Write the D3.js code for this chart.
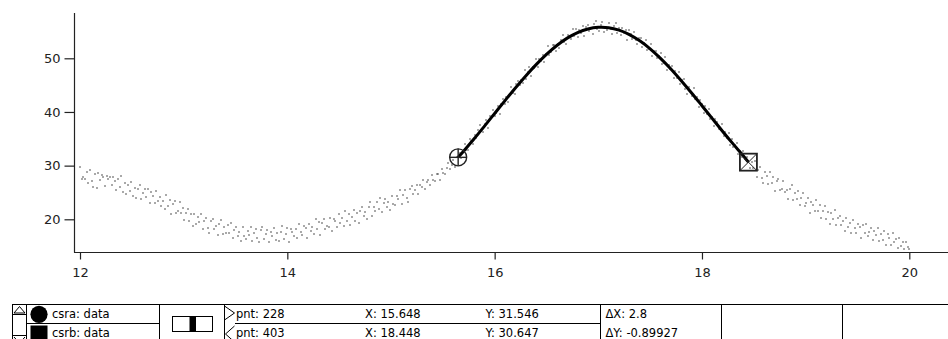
<!DOCTYPE html>
<html><head><meta charset="utf-8">
<script src="https://cdn.jsdelivr.net/npm/d3@7"></script>
<style>
body{margin:0;background:#fff;}
svg{display:block;font-family:"DejaVu Sans",sans-serif;}
</style>
</head><body>
<svg id="chart" width="948" height="339"></svg>
<script>
// ---- data (wave "data": x scaling start/step, y values) ----
const xStart = 12;
const xStep = 0.016;
const yValues = [
29.8,27.5,27.9,27.6,28.9,26.8,29.2,27.1,26.0,28.4,
25.9,28.6,27.3,28.3,27.9,26.2,28.1,27.6,27.9,26.3,
27.8,27.2,25.4,27.5,26.1,28.1,25.0,26.8,24.7,26.3,
25.2,26.9,24.3,25.9,24.0,25.6,26.4,23.8,24.9,25.7,
24.1,25.7,23.0,25.0,24.4,23.1,25.2,23.5,24.1,22.4,
23.5,22.0,24.5,22.4,23.6,20.9,22.8,23.4,21.2,21.5,
23.2,21.1,22.1,19.8,21.1,22.0,19.7,21.0,18.8,20.9,
19.1,20.5,19.5,21.0,18.1,19.6,20.2,18.4,17.5,19.7,
20.1,18.1,18.7,17.1,19.1,19.9,17.2,18.5,17.5,19.0,
17.5,19.4,16.6,18.0,18.5,16.8,17.7,16.0,18.5,16.8,
16.4,17.9,17.1,18.6,15.9,17.5,18.2,16.5,15.7,18.0,
18.5,16.3,17.2,18.0,15.8,17.6,16.9,18.4,16.2,17.5,
16.0,17.6,18.7,16.4,17.3,18.4,15.8,18.1,17.7,16.8,
18.2,16.5,19.1,17.6,17.0,18.7,18.3,16.6,19.1,17.8,
18.5,17.3,20.0,18.1,19.5,17.1,19.3,20.1,18.2,18.7,
18.5,20.3,17.9,20.1,19.6,18.6,20.9,19.4,20.3,18.8,
21.5,19.7,21.0,19.0,20.5,21.7,19.7,21.2,19.3,21.6,
22.3,20.6,21.4,20.0,22.2,23.2,20.7,22.3,21.5,23.2,
21.9,24.0,21.4,23.0,23.7,22.2,23.2,21.8,24.4,22.9,
22.7,24.3,23.7,25.4,22.8,24.6,25.5,23.9,23.3,25.7,
26.2,24.7,25.5,26.3,24.8,26.4,26.0,27.3,25.7,26.9,
27.3,26.3,28.2,27.4,27.1,28.5,28.4,27.4,29.3,28.6,
28.4,29.6,30.4,29.4,30.1,31.1,29.8,31.6,31.546,
32.3,31.4,32.8,34.1,33.0,33.0,34.9,34.5,34.0,35.7,
35.1,36.7,37.6,36.5,36.2,37.7,38.5,37.1,39.2,38.8,
40.3,39.2,39.9,41.1,39.6,41.5,42.5,41.4,42.8,41.9,
43.3,44.7,43.5,43.3,45.2,45.8,45.1,45.9,45.4,47.9,
46.2,47.4,48.4,46.7,48.3,48.1,49.8,48.3,49.9,49.5,
50.7,49.4,50.8,52.2,50.7,51.2,52.5,52.4,51.4,52.7,
52.0,53.4,54.3,53.0,52.6,54.4,54.2,53.6,55.5,54.2,
55.5,54.0,55.2,54.8,56.1,54.1,55.8,56.2,55.0,55.7,
54.6,56.3,56.9,55.5,55.1,56.2,56.7,54.9,55.9,55.3,
56.5,55.4,54.5,56.0,56.5,54.7,55.6,54.3,55.6,54.7,
55.2,53.4,55.3,54.5,53.6,54.9,53.4,52.6,53.7,53.8,
52.1,52.8,53.5,51.6,51.7,52.6,50.4,51.4,51.4,50.1,
50.5,51.0,49.0,49.1,50.2,47.8,48.8,48.0,48.6,46.3,
47.7,46.3,47.5,45.2,45.9,46.2,44.3,43.4,44.7,43.9,
42.9,44.4,42.5,42.7,41.0,42.2,41.4,39.8,41.2,39.7,
40.6,38.6,39.1,37.4,38.6,38.2,36.9,36.8,37.8,35.5,
36.2,35.2,36.0,33.8,34.9,33.4,33.8,34.3,32.1,32.8,
31.6,32.7,31.2,31.6,30.647,
29.6,30.7,29.6,30.9,27.9,29.2,29.7,27.7,26.7,28.8,
28.0,26.5,28.9,26.8,27.9,25.2,27.1,27.6,25.4,25.7,
27.1,25.0,25.5,23.8,25.7,26.4,23.6,24.9,23.8,25.2,
22.7,24.0,24.9,22.5,23.1,24.0,21.2,23.3,22.7,21.5,
23.6,21.6,22.6,20.3,21.5,22.4,20.1,21.3,19.2,21.2,
20.1,21.8,19.0,20.3,20.6,18.9,19.6,17.8,20.2,18.5,
19.4,17.5,19.9,18.3,17.5,19.1,18.5,16.6,19.0,17.5,
19.2,16.9,17.7,18.4,16.1,17.8,17.0,18.3,16.0,17.2,
16.2,17.8,15.2,17.2,16.5,15.3,17.4,15.7,16.4,14.6,
16.5,15.0,15.7,14.4,15.7,14.8,14.5
];

// fitted curve (between the cursors)
const fitX = [15.648,15.7,15.8,15.9,16.0,16.1,16.2,16.3,16.4,16.5,16.6,16.7,16.8,16.9,17.0,
              17.1,17.2,17.3,17.4,17.5,17.6,17.7,17.8,17.9,18.0,18.1,18.2,18.3,18.4,18.448];
const fitY = [31.55,32.69,34.96,37.32,39.72,42.12,44.47,46.72,48.82,50.73,52.39,53.76,54.79,55.47,55.78,
              55.71,55.25,54.42,53.25,51.76,49.99,48.01,45.83,43.54,41.16,38.76,36.37,34.05,31.81,30.65];

const xTicks = [12, 14, 16, 18, 20];
const yTicks = [20, 30, 40, 50];

// cursors
const cursorNames = ["csra: data", "csrb: data"];
const cursorPnt = [228, 403];
const cursorX = [15.648, 18.448];
const cursorY = [31.546, 30.647];
const pntLabels = ["pnt: 228", "pnt: 403"];
const xLabels = ["X: 15.648", "X: 18.448"];
const yLabels = ["Y: 31.546", "Y: 30.647"];
const deltaLabels = ["\u0394X: 2.8", "\u0394Y: -0.89927"];

// ---- layout ----
const svg = d3.select("#chart");
const plotLeft = 74, plotRight = 948, plotTop = 13, plotBottom = 252;

const x = d3.scaleLinear().domain([12, 20]).range([80, 909.3]);
const y = d3.scaleLinear().domain([20, 50]).range([219.3, 58.3]);

const ink = "#222";

// axes lines
svg.append("line").attr("x1", plotLeft + 0.5).attr("x2", plotLeft + 0.5)
  .attr("y1", plotTop).attr("y2", plotBottom + 0.5).attr("stroke", ink).attr("stroke-width", 1.2);
svg.append("line").attr("x1", plotLeft).attr("x2", plotRight)
  .attr("y1", plotBottom + 0.5).attr("y2", plotBottom + 0.5).attr("stroke", ink).attr("stroke-width", 1.2);

const xAxis = svg.append("g").attr("transform", `translate(0,${plotBottom + 0.5})`)
  .call(d3.axisBottom(x).tickValues(xTicks).tickSize(7).tickPadding(8).tickFormat(d3.format("d")));
const yAxis = svg.append("g").attr("transform", `translate(${plotLeft + 0.5},0)`)
  .call(d3.axisLeft(y).tickValues(yTicks).tickSize(10).tickPadding(4).tickFormat(d3.format("d")));
[xAxis, yAxis].forEach(g => {
  g.select(".domain").remove();
  g.selectAll(".tick line").attr("stroke", ink).attr("stroke-width", 1.2);
  g.selectAll(".tick text").attr("fill", ink).attr("font-size", 13)
   .attr("font-family", "'DejaVu Sans', sans-serif");
});

// data points (small dots)
const pts = yValues.map((v, i) => ({x: xStart + i * xStep, y: v}));
svg.append("g").selectAll("rect").data(pts).join("rect")
  .attr("x", d => Math.round(x(d.x)) - 0.65).attr("y", d => Math.round(y(d.y)) - 0.65)
  .attr("width", 1.3).attr("height", 1.3).attr("fill", "#333");

// fit curve
const fitData = fitX.map((v, i) => [v, fitY[i]]);
svg.append("path").datum(fitData)
  .attr("d", d3.line().x(d => x(d[0])).y(d => y(d[1])).curve(d3.curveCatmullRom))
  .attr("fill", "none").attr("stroke", "#000").attr("stroke-width", 3)
  .attr("stroke-linejoin", "round");

// cursor A: circle with cross
{
  const cx = x(cursorX[0]), cy = y(cursorY[0]), r = 8.5;
  const g = svg.append("g").attr("fill", "none").attr("stroke", ink).attr("stroke-width", 1.4);
  g.append("circle").attr("cx", cx).attr("cy", cy).attr("r", r);
  g.append("line").attr("x1", cx - r).attr("x2", cx + r).attr("y1", cy).attr("y2", cy);
  g.append("line").attr("x1", cx).attr("x2", cx).attr("y1", cy - r).attr("y2", cy + r);
}
// cursor B: square with X
{
  const cx = x(cursorX[1]), cy = y(cursorY[1]), h = 8.5;
  const g = svg.append("g").attr("fill", "none").attr("stroke", ink);
  g.append("rect").attr("x", cx - h).attr("y", cy - h).attr("width", 2 * h).attr("height", 2 * h)
   .attr("stroke-width", 1.8);
  g.append("line").attr("x1", cx - h).attr("y1", cy - h).attr("x2", cx + h).attr("y2", cy + h).attr("stroke-width", 1);
  g.append("line").attr("x1", cx + h).attr("y1", cy - h).attr("x2", cx - h).attr("y2", cy + h).attr("stroke-width", 1);
}

// ---- cursor info panel ----
const pTop = 304.5, pMid = 323.5, pBot = 339;
const panel = svg.append("g").attr("stroke", "#000").attr("stroke-width", 1).attr("fill", "none");
panel.append("line").attr("x1", 12).attr("x2", 948).attr("y1", pTop).attr("y2", pTop);
[12.5, 26.5, 159.5, 224.5, 600.5, 721.5, 842.5].forEach(vx =>
  panel.append("line").attr("x1", vx).attr("x2", vx).attr("y1", pTop).attr("y2", pBot));
panel.append("line").attr("x1", 26.5).attr("x2", 159.5).attr("y1", pMid).attr("y2", pMid);
panel.append("line").attr("x1", 235).attr("x2", 600.5).attr("y1", pMid).attr("y2", pMid);
// scroll arrows
panel.append("path").attr("d", "M14,313 L19.5,306.5 L25,313 Z");
panel.append("line").attr("x1", 12.5).attr("x2", 26.5).attr("y1", 314.5).attr("y2", 314.5);
panel.append("line").attr("x1", 12.5).attr("x2", 26.5).attr("y1", 335.5).attr("y2", 335.5);
panel.append("path").attr("d", "M14,337 L19.5,343 L25,337");
// cursor pointer arrows
panel.append("path").attr("d", "M224.5,306 L234.5,313 L224.5,320");
panel.append("path").attr("d", "M234.5,326 L225.5,334 L234.5,342");
// legend symbols
svg.append("circle").attr("cx", 39).attr("cy", 314.3).attr("r", 8.6).attr("fill", "#000");
svg.append("rect").attr("x", 30.5).attr("y", 325.5).attr("width", 17).attr("height", 17).attr("fill", "#000");
// centre icon
panel.append("rect").attr("x", 172.5).attr("y", 316.5).attr("width", 40).attr("height", 15);
svg.append("rect").attr("x", 189.5).attr("y", 316.5).attr("width", 6.5).attr("height", 15).attr("fill", "#000");

const rowBase = [318, 337];
const textG = svg.append("g").attr("font-size", 11.5).attr("fill", "#000")
  .attr("font-family", "'DejaVu Sans', sans-serif");
cursorNames.forEach((t, i) => textG.append("text").attr("x", 52).attr("y", rowBase[i]).text(t));
pntLabels.forEach((t, i) => textG.append("text").attr("x", 236).attr("y", rowBase[i]).text(t));
xLabels.forEach((t, i) => textG.append("text").attr("x", 365).attr("y", rowBase[i]).text(t));
yLabels.forEach((t, i) => textG.append("text").attr("x", 485.5).attr("y", rowBase[i]).text(t));
deltaLabels.forEach((t, i) => textG.append("text").attr("x", 605.5).attr("y", rowBase[i]).text(t));
</script>
</body></html>
